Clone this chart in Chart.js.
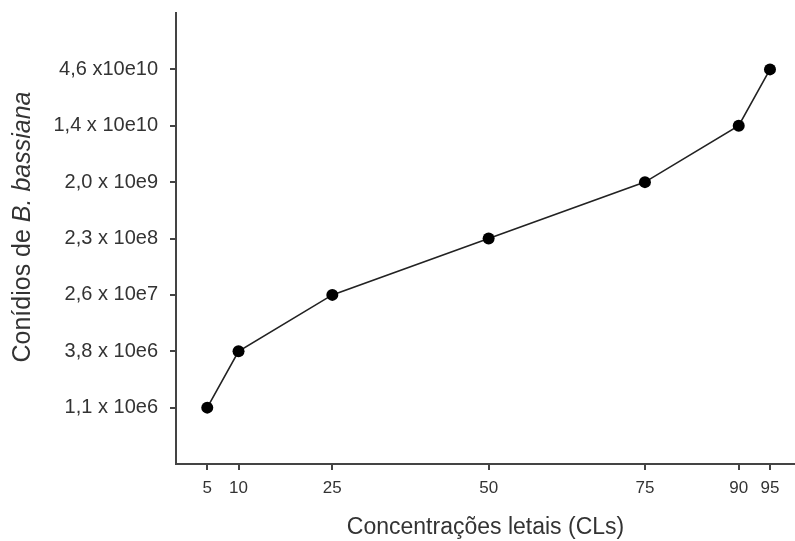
<!DOCTYPE html>
<html lang="pt">
<head>
<meta charset="utf-8">
<title>Concentrações letais</title>
<script src="https://cdn.jsdelivr.net/npm/chart.js@4.4.0/dist/chart.umd.min.js"></script>
<style>
  body { margin: 0; background: #fff; }
  #wrap { width: 795px; height: 541px; }
</style>
</head>
<body>
<div id="wrap"><canvas id="clChart"></canvas></div>
<script>
// lethal concentrations (x) and the conidia dose read for each one (y, shown as tick labels)
const concentrations = [5, 10, 25, 50, 75, 90, 95];
const doseLevels = [0, 1, 2, 3, 4, 5, 6];
const doseLabels = ["1,1 x 10e6", "3,8 x 10e6", "2,6 x 10e7", "2,3 x 10e8", "2,0 x 10e9", "1,4 x 10e10", "4,6 x10e10"];
const xTickValues = [5, 10, 25, 50, 75, 90, 95];
const xTitle = "Concentrações letais (CLs)";
const yTitleParts = ["Conídios de ", "B. bassiana"];

const inkColor = "#333333";
const fontFamily = '"Liberation Sans", Arial, sans-serif';

// y title has an italic species name, so draw it by hand
const yTitlePlugin = {
  id: "yTitle",
  afterDraw(chart) {
    const ctx = chart.ctx;
    const normal = "25px " + fontFamily;
    const italic = "italic 25px " + fontFamily;
    ctx.save();
    ctx.font = normal;
    const w1 = ctx.measureText(yTitleParts[0]).width;
    ctx.font = italic;
    const w2 = ctx.measureText(yTitleParts[1]).width;
    ctx.translate(23, 227);
    ctx.rotate(-Math.PI / 2);
    ctx.textBaseline = "middle";
    ctx.textAlign = "left";
    ctx.fillStyle = inkColor;
    let x = -(w1 + w2) / 2;
    ctx.font = normal;
    ctx.fillText(yTitleParts[0], x, 0);
    ctx.font = italic;
    ctx.fillText(yTitleParts[1], x + w1, 0);
    ctx.restore();
  }
};

let ctx = document.getElementById("clChart").getContext("2d");
let clChart = new Chart(ctx, {
  type: "line",
  data: {
    datasets: [{
      data: concentrations.map((c, i) => ({ x: c, y: doseLevels[i] })),
      borderColor: "#222222",
      borderWidth: 1.6,
      pointRadius: 6,
      pointBackgroundColor: "#000000",
      pointBorderColor: "#000000",
      pointBorderWidth: 0,
      tension: 0
    }]
  },
  options: {
    responsive: true,
    maintainAspectRatio: false,
    animation: false,
    layout: { autoPadding: false, padding: { top: 13, right: 0, bottom: 0, left: 0 } },
    plugins: {
      legend: { display: false },
      tooltip: { enabled: false }
    },
    scales: {
      x: {
        type: "linear",
        min: 0,
        max: 99,
        afterBuildTicks: (scale) => { scale.ticks = xTickValues.map(v => ({ value: v })); },
        afterFit: (scale) => {
          scale.height = 77;
          scale.paddingLeft = 0;
          scale.paddingRight = 0;
        },
        grid: { drawOnChartArea: false, drawTicks: true, tickLength: 6, color: "#444", lineWidth: 2 },
        border: { display: true, color: "#444", width: 2 },
        ticks: {
          color: inkColor,
          padding: 8,
          maxRotation: 0,
          autoSkip: false,
          font: { family: fontFamily, size: 17 }
        },
        title: {
          display: true,
          text: xTitle,
          color: inkColor,
          padding: { top: 0, bottom: 0 },
          font: { family: fontFamily, size: 23 }
        }
      },
      y: {
        type: "linear",
        min: -1,
        max: 7,
        afterBuildTicks: (scale) => { scale.ticks = doseLevels.map(v => ({ value: v })); },
        afterFit: (scale) => {
          scale.width = 176;
          scale.paddingTop = 0;
          scale.paddingBottom = 0;
        },
        grid: { drawOnChartArea: false, drawTicks: true, tickLength: 6, color: "#444", lineWidth: 2 },
        border: { display: true, color: "#444", width: 2 },
        ticks: {
          color: inkColor,
          padding: 12,
          autoSkip: false,
          font: { family: fontFamily, size: 20 },
          callback: (value) => doseLabels[value]
        }
      }
    }
  },
  plugins: [yTitlePlugin]
});
</script>
</body>
</html>
